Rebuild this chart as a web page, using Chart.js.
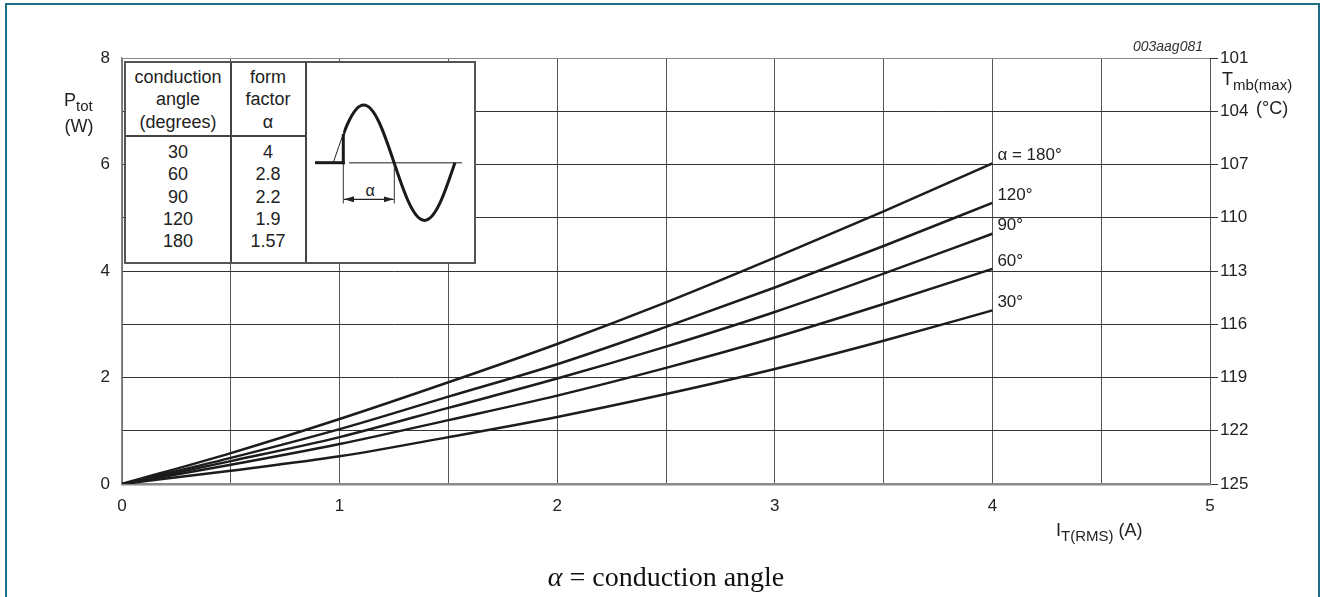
<!DOCTYPE html>
<html>
<head>
<meta charset="utf-8">
<script src="https://cdn.jsdelivr.net/npm/chart.js@4.4.1/dist/chart.umd.min.js"></script>
<style>
  html, body { margin: 0; padding: 0; background: #fff; }
  #wrap { position: relative; width: 1328px; height: 597px; overflow: hidden; font-family: 'Liberation Sans', Arial, sans-serif; color: #222; }
  #chart { position: absolute; left: 0; top: 0; }
  .frame { position: absolute; left: 5px; top: 3px; width: 1315px; height: 640px; border: 2px solid #1d6f86; border-bottom: none; box-sizing: border-box; }
  .lbl { position: absolute; font-size: 18px; line-height: 18px; white-space: nowrap; }
  .lbl sub { font-size: 15px; vertical-align: -5px; line-height: 0; }
  .inset { position: absolute; left: 124px; top: 61px; width: 352px; height: 203px; background: #fff; border: 2px solid #555; box-sizing: border-box; }
  .col { position: absolute; font-size: 18px; line-height: 22.3px; text-align: center; }
</style>
</head>
<body>
<div id="wrap">
  <canvas id="chart" width="1328" height="597"></canvas>
  <div class="frame"></div>

  <!-- inset table -->
  <div class="inset"></div>
  <div style="position:absolute;left:230px;top:62px;width:1.5px;height:200px;background:#444"></div>
  <div style="position:absolute;left:305px;top:62px;width:1.5px;height:200px;background:#444"></div>
  <div style="position:absolute;left:126px;top:135px;width:180px;height:1.5px;background:#444"></div>
  <div class="col" style="left:126px;top:66px;width:104px">conduction<br>angle<br>(degrees)</div>
  <div class="col" style="left:231px;top:66px;width:74px">form<br>factor<br>α</div>
  <div class="col" id="angCol" style="left:126px;top:141px;width:104px"></div>
  <div class="col" id="ffCol" style="left:231px;top:141px;width:74px"></div>
  <svg style="position:absolute;left:307px;top:63px" width="166" height="198" viewBox="307 63 166 198">
    <defs>
      <clipPath id="fired"><rect x="343.3" y="63" width="130" height="198"/></clipPath>
      <marker id="ah" viewBox="0 0 10 6" refX="10" refY="3" markerWidth="10" markerHeight="6" markerUnits="userSpaceOnUse" orient="auto-start-reverse">
        <path d="M0,0 L10,3 L0,6 z" fill="#222"/>
      </marker>
    </defs>
    <line x1="349" y1="162.7" x2="462" y2="162.7" stroke="#666" stroke-width="1.5"/>
    <path d="M333.3,162.7 C343.2,133.1 352.7,105 363.7,105 C374.7,105 384.2,133.1 394.1,162.7 C404.0,192.3 413.5,220.4 424.5,220.4 C435.5,220.4 445.0,192.3 454.9,162.7" fill="none" stroke="#222" stroke-width="1"/>
    <path clip-path="url(#fired)" d="M333.3,162.7 C343.2,133.1 352.7,105 363.7,105 C374.7,105 384.2,133.1 394.1,162.7 C404.0,192.3 413.5,220.4 424.5,220.4 C435.5,220.4 445.0,192.3 454.9,162.7" fill="none" stroke="#1a1a1a" stroke-width="3"/>
    <line x1="315" y1="162.7" x2="344.8" y2="162.7" stroke="#1a1a1a" stroke-width="3"/>
    <line x1="343.3" y1="164.2" x2="343.3" y2="134" stroke="#1a1a1a" stroke-width="3"/>
    <line x1="343.3" y1="164" x2="343.3" y2="203.5" stroke="#333" stroke-width="1"/>
    <line x1="394.3" y1="164" x2="394.3" y2="203.5" stroke="#333" stroke-width="1"/>
    <line x1="344" y1="199.3" x2="393.6" y2="199.3" stroke="#222" stroke-width="1.2" marker-start="url(#ah)" marker-end="url(#ah)"/>
    <text x="370" y="195.5" font-size="16" text-anchor="middle" fill="#222" font-family="Liberation Sans, Arial, sans-serif">α</text>
  </svg>

  <!-- axis titles -->
  <div class="lbl" style="left:64px;top:91px">P<sub>tot</sub></div>
  <div class="lbl" style="left:59px;top:116.5px;width:40px;text-align:center">(W)</div>
  <div class="lbl" style="left:1222px;top:70px">T<sub>mb(max)</sub></div>
  <div class="lbl" style="left:1256px;top:98.5px">(°C)</div>
  <div class="lbl" style="left:1056px;top:520.5px">I<sub>T(RMS)</sub> (A)</div>
  <div class="lbl" style="right:125px;top:39px;font-size:14px;line-height:14px;font-style:italic;color:#333">003aag081</div>
  <div class="lbl" style="left:0;width:1332px;top:563px;text-align:center;font-family:'Liberation Serif','Times New Roman',serif;font-size:28px;line-height:28px;color:#111"><i>α</i> = conduction angle</div>
</div>

<script>
// --- data ---
const currents = [0, 0.5, 1, 1.5, 2, 2.5, 3, 3.5, 4];          // I_T(RMS) (A)
const p180 = [0, 0.58, 1.22, 1.91, 2.63, 3.41, 4.25, 5.12, 6.02];
const p120 = [0, 0.49, 1.03, 1.64, 2.25, 2.95, 3.69, 4.47, 5.28];
const p90  = [0, 0.43, 0.88, 1.43, 1.98, 2.58, 3.23, 3.95, 4.70];
const p60  = [0, 0.36, 0.75, 1.20, 1.66, 2.18, 2.75, 3.38, 4.04];
const p30  = [0, 0.25, 0.52, 0.88, 1.26, 1.69, 2.16, 2.69, 3.26];
const curveLabels = ['α = 180°', '120°', '90°', '60°', '30°'];

const xLabels = [0, 1, 2, 3, 4, 5];
const yLabels = [0, 2, 4, 6, 8];
const tempLabels = [101, 104, 107, 110, 113, 116, 119, 122, 125];   // Tmb(max) (°C)

const angles = [30, 60, 90, 120, 180];
const formFactors = [4, 2.8, 2.2, 1.9, 1.57];

// inset table values
document.getElementById('angCol').innerHTML = angles.join('<br>');
document.getElementById('ffCol').innerHTML = formFactors.join('<br>');

Chart.defaults.font.family = "'Liberation Sans', Arial, sans-serif";
Chart.defaults.color = '#222';

const series = [p180, p120, p90, p60, p30];
const toPts = arr => arr.map((v, i) => ({ x: currents[i], y: v }));

// labels at the end of each curve
const endLabels = {
  id: 'endLabels',
  afterDatasetsDraw(chart) {
    const { ctx, scales } = chart;
    ctx.save();
    ctx.font = "17px 'Liberation Sans', Arial, sans-serif";
    ctx.fillStyle = '#222';
    ctx.textBaseline = 'middle';
    chart.data.datasets.forEach((ds, i) => {
      const last = ds.data[ds.data.length - 1];
      ctx.fillText(curveLabels[i], scales.x.getPixelForValue(last.x) + 5, scales.y.getPixelForValue(last.y) - 8);
    });
    ctx.restore();
  }
};

new Chart(document.getElementById('chart'), {
  type: 'line',
  data: {
    datasets: series.map((s, i) => ({
      label: curveLabels[i],
      data: toPts(s),
      borderColor: '#1c1c1c',
      borderWidth: 2.5,
      pointRadius: 0,
      fill: false,
      cubicInterpolationMode: 'monotone'
    }))
  },
  options: {
    responsive: false,
    animation: false,
    events: [],
    layout: { padding: { top: 58, left: 0, right: 0, bottom: 0 } },
    plugins: { legend: { display: false }, tooltip: { enabled: false } },
    scales: {
      x: {
        type: 'linear', min: 0, max: 5,
        ticks: {
          stepSize: 0.5, padding: 12, font: { size: 17 }, color: '#222',
          callback: v => xLabels.includes(v) ? v : ''
        },
        grid: { color: '#555', lineWidth: 1, drawTicks: false },
        border: { color: '#8a8a8a', width: 2.5 },
        afterFit: s => { s.height = 113; }
      },
      y: {
        min: 0, max: 8,
        ticks: {
          stepSize: 1, padding: 12, font: { size: 17 }, color: '#222',
          callback: v => yLabels.includes(v) ? v : ''
        },
        grid: {
          color: c => c.tick && c.tick.value === 8 ? '#888' : '#333',
          lineWidth: 1, drawTicks: false
        },
        border: { color: '#888', width: 1.5 },
        afterFit: s => { s.width = 122; }
      },
      y2: {
        position: 'right', reverse: true, min: 101, max: 125,
        afterBuildTicks: axis => { axis.ticks = tempLabels.map(v => ({ value: v })); },
        ticks: { padding: 2, font: { size: 17 }, color: '#222' },
        grid: { drawOnChartArea: false, drawTicks: true, tickLength: 8, color: '#333' },
        border: { display: false },
        afterFit: s => { s.width = 118; }
      }
    }
  },
  plugins: [endLabels]
});
</script>
</body>
</html>
